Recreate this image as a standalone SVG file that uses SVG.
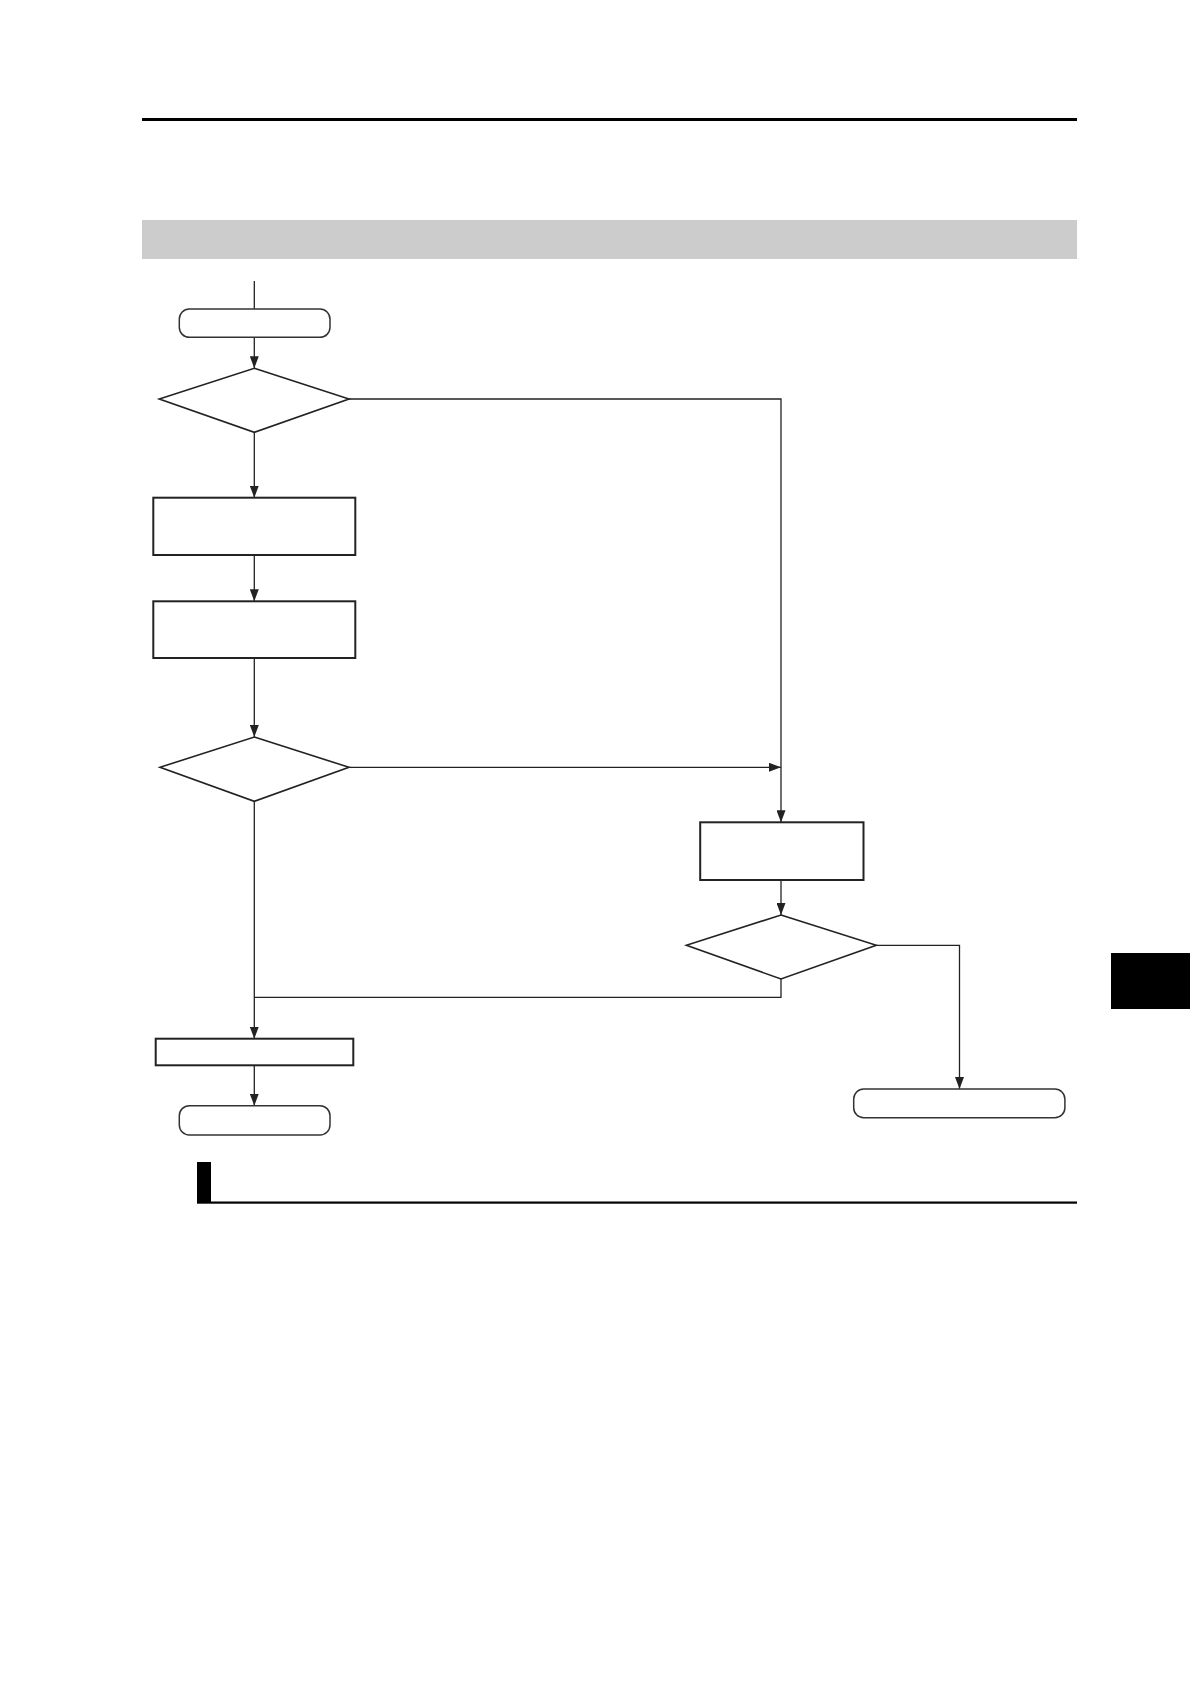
<svg xmlns="http://www.w3.org/2000/svg" width="1190" height="1684" viewBox="0 0 1190 1684">
<style>
.ln{fill:none;stroke:#222;stroke-width:1.3}
.dia{fill:#fff;stroke:#222;stroke-width:1.6}
.box{fill:#fff;stroke:#222;stroke-width:2}
.term{fill:#fff;stroke:#333;stroke-width:1.5}
</style>
<defs>
<marker id="ah" markerWidth="12" markerHeight="9" refX="12" refY="4.5" orient="auto" markerUnits="userSpaceOnUse">
<path d="M0,0 L12,4.5 L0,9 Z" fill="#222"/>
</marker>
</defs>
<rect width="1190" height="1684" fill="#fff"/>
<g id="page">
<rect x="142" y="118" width="935" height="3" fill="#000"/>
<rect x="142" y="220" width="935" height="39" fill="#cccccc"/>
<rect x="197" y="1162" width="14" height="41" fill="#000"/>
<rect x="197" y="1201.5" width="880" height="2.2" fill="#000"/>
<rect x="1111" y="953" width="79" height="56" fill="#000"/>
</g>
<g id="connectors">
<line class="ln" x1="254.3" y1="281" x2="254.3" y2="309"/>
<line class="ln" x1="254.3" y1="337.3" x2="254.3" y2="368.3" marker-end="url(#ah)"/>
<polyline class="ln" points="349,399 781,399 781,822.3" marker-end="url(#ah)"/>
<line class="ln" x1="254.3" y1="432.3" x2="254.3" y2="497.7" marker-end="url(#ah)"/>
<line class="ln" x1="254.3" y1="555" x2="254.3" y2="601.3" marker-end="url(#ah)"/>
<line class="ln" x1="254.3" y1="658" x2="254.3" y2="737" marker-end="url(#ah)"/>
<line class="ln" x1="349" y1="767.3" x2="781" y2="767.3" marker-end="url(#ah)"/>
<line class="ln" x1="254.3" y1="801.3" x2="254.3" y2="1038.7" marker-end="url(#ah)"/>
<line class="ln" x1="781" y1="880" x2="781" y2="915" marker-end="url(#ah)"/>
<polyline class="ln" points="781,979 781,997.3 254.3,997.3"/>
<polyline class="ln" points="876.3,945.3 959.5,945.3 959.5,1089" marker-end="url(#ah)"/>
<line class="ln" x1="254.3" y1="1065.3" x2="254.3" y2="1105.7" marker-end="url(#ah)"/>
</g>
<g id="start"><rect class="term" x="179.3" y="309" width="150.7" height="28.3" rx="10"/></g>
<g id="decision1"><polygon class="dia" points="254.3,368.3 349,399 254.3,432.3 159.3,399"/></g>
<g id="process1"><rect class="box" x="153.3" y="497.7" width="202" height="57.3"/></g>
<g id="process2"><rect class="box" x="153.3" y="601.3" width="202" height="56.7"/></g>
<g id="decision2"><polygon class="dia" points="254.3,737 349,767.3 254.3,801.3 160,767.3"/></g>
<g id="process3"><rect class="box" x="700.2" y="822.3" width="163.3" height="57.7"/></g>
<g id="decision3"><polygon class="dia" points="781,915 876.3,945.3 781,979 686.4,945.3"/></g>
<g id="process4"><rect class="box" x="155.7" y="1038.7" width="197.6" height="26.6"/></g>
<g id="end1"><rect class="term" x="179.3" y="1105.7" width="150.7" height="29.3" rx="10"/></g>
<g id="end2"><rect class="term" x="853.7" y="1089" width="211.2" height="28.7" rx="10"/></g>
</svg>
